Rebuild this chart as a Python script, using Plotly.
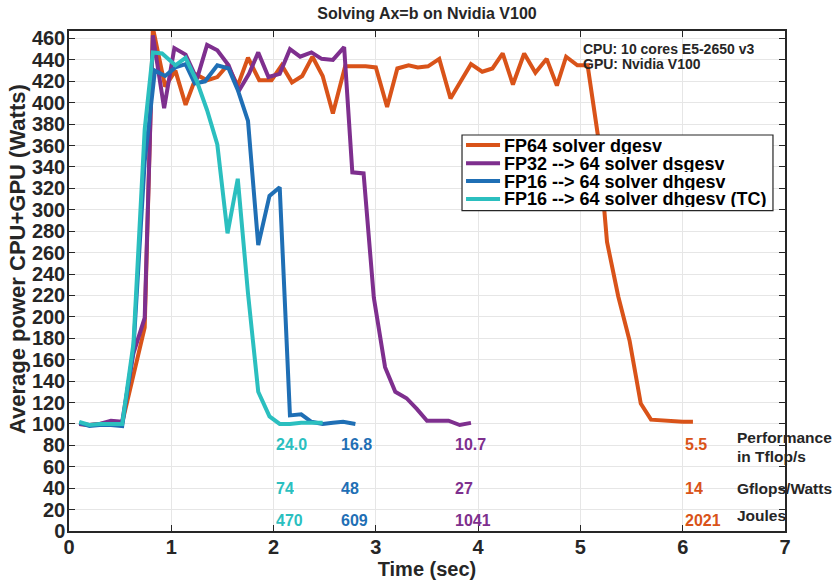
import plotly.graph_objects as go

# ---------------- data ----------------
series_names = [
    "FP64 solver dgesv",
    "FP32 --> 64 solver dsgesv",
    "FP16 --> 64 solver dhgesv",
    "FP16 --> 64 solver dhgesv (TC)",
]
series_colors = ["#D95319", "#7E2F8E", "#1F6FB5", "#2BBFBF"]

fp64_t = [0.10, 0.20, 0.30, 0.41, 0.52, 0.63, 0.74, 0.82, 0.94, 1.04, 1.14, 1.25, 1.35, 1.45, 1.55,
          1.65, 1.75, 1.86, 1.98, 2.08, 2.18, 2.28, 2.38, 2.48, 2.58, 2.70, 2.80, 2.90, 3.00, 3.11,
          3.21, 3.32, 3.41, 3.51, 3.62, 3.73, 3.83, 3.93, 4.04, 4.14, 4.24, 4.34, 4.45, 4.56, 4.67,
          4.77, 4.86, 4.97, 5.07, 5.17, 5.26, 5.37, 5.48, 5.59, 5.69, 5.80, 5.90, 6.00, 6.10]
fp64_w = [100, 99, 100, 101, 101, 145, 190, 470, 415, 430, 398, 426, 421, 424, 435,
          416, 442, 421, 421, 435, 419, 425, 443, 425, 390, 434, 434, 434, 433, 396,
          432, 435, 433, 434, 441, 404, 420, 436, 429, 432, 446, 417, 446, 428, 441,
          416, 443, 435, 435, 370, 270, 219, 178, 119, 104, 103, 103, 102, 102]

fp32_t = [0.10, 0.20, 0.30, 0.41, 0.52, 0.63, 0.74, 0.82, 0.93, 1.03, 1.14, 1.25, 1.35, 1.45, 1.56,
          1.66, 1.76, 1.85, 1.95, 2.06, 2.16, 2.26, 2.37, 2.47, 2.58, 2.69, 2.77, 2.88, 2.98, 3.09,
          3.19, 3.30, 3.40, 3.50, 3.60, 3.71, 3.82, 3.93]
fp32_w = [100, 99, 100, 103, 102, 166, 199, 463, 395, 451, 445, 422, 454, 449, 435,
          411, 427, 447, 424, 427, 450, 443, 447, 441, 440, 452, 335, 334, 218, 153,
          130, 124, 114, 103, 103, 103, 99, 101]

fp16_t = [0.10, 0.20, 0.30, 0.41, 0.52, 0.63, 0.74, 0.84, 0.94, 1.04, 1.14, 1.23, 1.33, 1.45, 1.56,
          1.65, 1.75, 1.85, 1.96, 2.06, 2.16, 2.27, 2.37, 2.48, 2.58, 2.68, 2.80]
fp16_w = [101, 98, 99, 99, 98, 170, 345, 430, 425, 433, 436, 418, 420, 435, 432,
          412, 383, 267, 313, 321, 108, 109, 102, 100, 101, 102, 100]

fp16tc_t = [0.10, 0.20, 0.30, 0.41, 0.52, 0.63, 0.74, 0.82, 0.91, 1.04, 1.14, 1.25, 1.35, 1.45, 1.55,
            1.65, 1.75, 1.85, 1.96, 2.06, 2.16, 2.27, 2.37, 2.48]
fp16tc_w = [102, 99, 100, 100, 100, 175, 375, 447, 446, 435, 442, 420, 393, 361, 278,
            329, 222, 130, 107, 100, 100, 101, 101, 101]

perf_tflops = ["24.0", "16.8", "10.7", "5.5"]      # TC, dhgesv, dsgesv, dgesv
gflops_per_watt = ["74", "48", "27", "14"]
joules = ["470", "609", "1041", "2021"]
row_labels = ["Performance<br>in Tflop/s", "Gflops/Watts", "Joules"]

x_ticks = [0, 1, 2, 3, 4, 5, 6, 7]
y_ticks = list(range(0, 461, 20))

# ---------------- figure ----------------
FONT = "Liberation Sans, Arial, Helvetica, sans-serif"
DARK = "#262626"

fig = go.Figure()
all_t = [fp64_t, fp32_t, fp16_t, fp16tc_t]
all_w = [fp64_w, fp32_w, fp16_w, fp16tc_w]
for name, col, t, w in zip(series_names, series_colors, all_t, all_w):
    fig.add_trace(go.Scatter(x=t, y=w, mode="lines", name=name,
                             line=dict(color=col, width=4, shape="linear")))

# numeric annotations (colors ordered TC, dhgesv, dsgesv, dgesv)
ann_colors = [series_colors[3], series_colors[2], series_colors[1], series_colors[0]]
ann_x = [2.0, 2.64, 3.75, 6.0]
annotations = []
for vals, yv in [(perf_tflops, 81), (gflops_per_watt, 40), (joules, 10.3)]:
    for v, xv, c in zip(vals, ann_x, ann_colors):
        annotations.append(dict(x=xv, y=yv, xref="x", yref="y", text=v, showarrow=False,
                                xanchor="left", yanchor="middle", height=18,
                                font=dict(family=FONT, size=16, color=c, weight="bold")))
label_y = [[87.7, 70.0], [40], [14.9]]
for lab, ys in zip(row_labels, label_y):
    parts = lab.split("<br>")
    for p, yv in zip(parts, ys):
        annotations.append(dict(x=6.51, y=yv, xref="x", yref="y", text=p, showarrow=False,
                                xanchor="left", yanchor="middle", height=17,
                                font=dict(family=FONT, size=15.5, color=DARK, weight="bold")))

# CPU/GPU info
for txt, yv in [("CPU: 10 cores E5-2650 v3", 450.5), ("GPU: Nvidia V100", 436.5)]:
    annotations.append(dict(x=5.01, y=yv, xref="x", yref="y", text=txt, showarrow=False,
                            xanchor="left", yanchor="middle", height=14,
                            font=dict(family=FONT, size=14, color=DARK, weight="bold")))

# y-axis title
annotations.append(dict(x=-0.0726, y=(531 - 259) / 500, xref="paper", yref="paper",
                        text="Average power CPU+GPU (Watts)", textangle=-90, showarrow=False,
                        xanchor="center", yanchor="middle",
                        font=dict(family=FONT, size=22, color=DARK, weight="bold")))

# legend drawn in paper coordinates
shapes = []
lx0, lx1, ly0, ly1 = 0.5489, 0.9832, 0.6406, 0.792
shapes.append(dict(type="rect", xref="paper", yref="paper", x0=lx0, x1=lx1, y0=ly0, y1=ly1,
                   line=dict(color=DARK, width=1.2), fillcolor="white", layer="above"))
row_ys = [0.772, 0.7354, 0.700, 0.664]
for name, col, ry in zip(series_names, series_colors, row_ys):
    shapes.append(dict(type="line", xref="paper", yref="paper", x0=0.5545, x1=0.6020, y0=ry, y1=ry,
                       line=dict(color=col, width=4), layer="above"))
    annotations.append(dict(x=0.6047, y=ry, xref="paper", yref="paper", text=name, showarrow=False,
                            xanchor="left", yanchor="middle", height=17,
                            font=dict(family=FONT, size=18, color="black", weight="bold")))

fig.update_layout(
    width=837, height=580,
    margin=dict(l=69, r=52, t=31, b=49),
    paper_bgcolor="white", plot_bgcolor="white",
    showlegend=False,
    font=dict(family=FONT, color=DARK),
    title=dict(text="Solving Ax=b on Nvidia V100", x=0.5, xref="paper", xanchor="center",
               y=1 - 13 / 580, yref="container", yanchor="middle", automargin=False,
               font=dict(family=FONT, size=16, color=DARK, weight="bold")),
    xaxis=dict(range=[0, 7], tickvals=x_ticks, ticks="inside", ticklen=6, tickwidth=1.2,
               tickcolor=DARK, showline=True, linecolor=DARK, linewidth=1.5, mirror="ticks",
               showgrid=True, gridcolor="#e6e6e6", gridwidth=1, zeroline=False, automargin=False,
               ticklabelstandoff=-3,
               tickfont=dict(family=FONT, size=20, color=DARK, weight="bold"),
               title=dict(text="Time (sec)", standoff=0,
                          font=dict(family=FONT, size=20, color=DARK, weight="bold"))),
    yaxis=dict(range=[0, 467], tickvals=y_ticks, ticks="inside", ticklen=6, tickwidth=1.2,
               tickcolor=DARK, showline=True, linecolor=DARK, linewidth=1.5, mirror="ticks",
               showgrid=True, gridcolor="#e6e6e6", gridwidth=1, zeroline=False, automargin=False,
               ticklabelstandoff=-2,
               tickfont=dict(family=FONT, size=20, color=DARK, weight="bold")),
    annotations=annotations,
    shapes=shapes,
)

fig.write_html("out.html", config={"displayModeBar": False},
               post_script="document.body.style.margin='0';")
